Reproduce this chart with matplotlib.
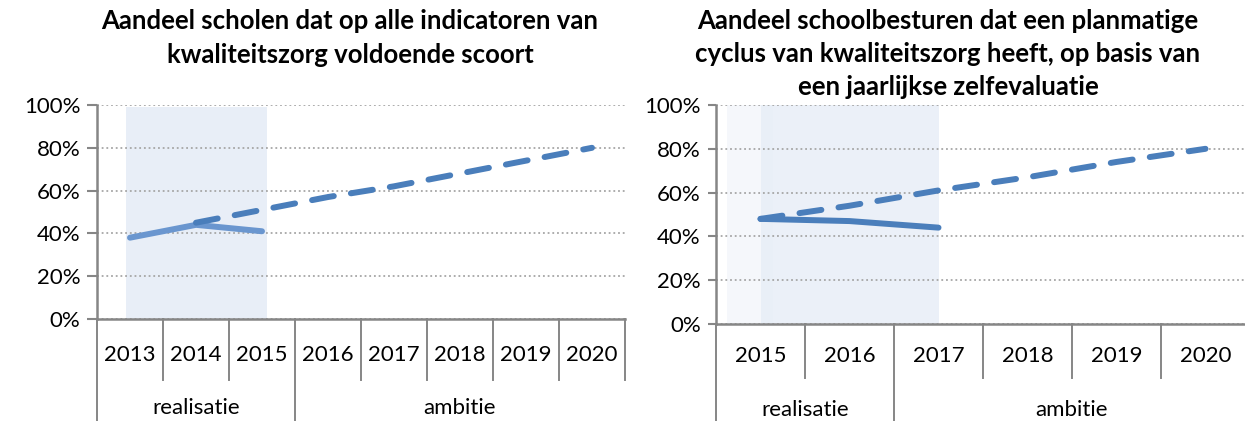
import numpy as np
import matplotlib.pyplot as plt
import matplotlib.transforms as transforms

plt.rcParams['font.family'] = ['Lato', 'DejaVu Sans']

# left panel
title_a = 'Aandeel scholen dat op alle indicatoren van\nkwaliteitszorg voldoende scoort'
years_a = ['2013', '2014', '2015', '2016', '2017', '2018', '2019', '2020']
groups_a = ['realisatie', 'ambitie']
group_sizes_a = [3, 5]
realisatie_a = [0.38, 0.44, 0.41]
ambitie_a = [np.nan, 0.45, 0.51, 0.57, 0.62, 0.68, 0.74, 0.80]

# right panel
title_b = ('Aandeel schoolbesturen dat een planmatige\n'
           'cyclus van kwaliteitszorg heeft, op basis van\n'
           'een jaarlijkse zelfevaluatie')
years_b = ['2015', '2016', '2017', '2018', '2019', '2020']
groups_b = ['realisatie', 'ambitie']
group_sizes_b = [2, 4]
realisatie_b = [0.48, 0.47, 0.44]
ambitie_b = [0.48, 0.54, 0.61, 0.67, 0.74, 0.80]

AXIS_GREY = '#868686'
SHADE = '#e8eef7'
DARK_BLUE = '#4a7ebb'
LIGHT_BLUE = '#6a96cf'


def draw_panel(ax, years, groups, group_sizes, realisatie, ambitie,
               solid_color, year_y, sep_y, group_y, tick_len):
    x = np.arange(len(years))
    ax.set_xlim(-0.5, len(years) - 0.5)
    ax.set_ylim(0, 1)

    ax.plot(x[:len(realisatie)], realisatie, color=solid_color, lw=4.3,
            solid_capstyle='round', zorder=3)
    ax.plot(x, ambitie, color=DARK_BLUE, lw=4.3, dashes=(3.7, 2.9),
            dash_capstyle='round', zorder=4)

    ax.set_yticks(np.linspace(0, 1, 6))
    ax.set_yticklabels(['%d%%' % round(v * 100) for v in np.linspace(0, 1, 6)])
    ax.yaxis.grid(True, color='#a6a6a6', linestyle=(0, (1, 1.6)), lw=1.3)
    ax.set_axisbelow(True)
    ax.tick_params(axis='y', length=tick_len, width=1.5, color=AXIS_GREY,
                   labelsize=16, pad=5)
    ax.set_xticks([])

    for side in ['top', 'right']:
        ax.spines[side].set_visible(False)
    for side in ['left', 'bottom']:
        ax.spines[side].set_color(AXIS_GREY)
        ax.spines[side].set_linewidth(1.8)

    trans = transforms.blended_transform_factory(ax.transData, ax.transAxes)
    for i, year in enumerate(years):
        ax.text(i, year_y, year, transform=trans, ha='center', va='center',
                fontsize=16)

    # separators of the two-level category axis
    bounds = np.cumsum([0] + group_sizes) - 0.5
    for b in np.arange(len(years) + 1) - 0.5:
        bottom = -1.0 if b in bounds[:-1] else sep_y
        ax.plot([b, b], [0, bottom], color=AXIS_GREY, lw=1.4,
                transform=trans, clip_on=False)
    for g, lo, hi in zip(groups, bounds[:-1], bounds[1:]):
        ax.text((lo + hi) / 2, group_y, g, transform=trans, ha='center',
                va='center', fontsize=16)


fig = plt.figure(figsize=(12.45, 4.21), dpi=100)

ax_a = fig.add_axes([97 / 1245, 102 / 421, 528 / 1245, 214 / 421])
ax_a.axvspan(-0.06, 2.08, ymax=0.99, color=SHADE, lw=0, zorder=0)
draw_panel(ax_a, years_a, groups_a, group_sizes_a, realisatie_a, ambitie_a,
           LIGHT_BLUE, -0.168, -0.285, -0.416, 7)

ax_b = fig.add_axes([716 / 1245, 97 / 421, 534 / 1245, 219 / 421])
ax_b.axvspan(-0.38, 0.14, color='#f5f7fb', lw=0, zorder=0)
ax_b.axvspan(0.0, 2.0, color=SHADE, alpha=0.85, lw=0, zorder=0)
draw_panel(ax_b, years_b, groups_b, group_sizes_b, realisatie_b, ambitie_b,
           DARK_BLUE, -0.146, -0.247, -0.393, 6)

fig.text(350 / 1245, 1 - 9 / 421, title_a, ha='center', va='top',
         fontsize=18.5, fontweight='bold', linespacing=1.49)
fig.text(948 / 1245, 1 - 9 / 421, title_b, ha='center', va='top',
         fontsize=18.5, fontweight='bold', linespacing=1.45)

fig.savefig('out.png', dpi=100)
